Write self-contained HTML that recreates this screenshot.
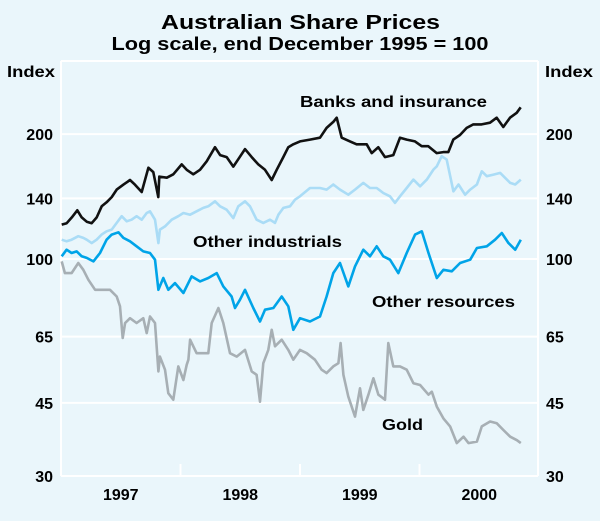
<!DOCTYPE html>
<html><head><meta charset="utf-8"><style>
html,body{margin:0;padding:0;background:#eaf6fb;}
svg{display:block;font-family:"Liberation Sans",Arial,sans-serif;}
</style></head><body>
<svg id="chart" width="600" height="521" viewBox="0 0 600 521">
<rect x="0" y="0" width="600" height="521" fill="#eaf6fb"/>
<text x="300.5" y="29" text-anchor="middle" font-size="20" font-weight="bold" textLength="279" lengthAdjust="spacingAndGlyphs" fill="#000">Australian Share Prices</text>
<text x="300" y="50" text-anchor="middle" font-size="18" font-weight="bold" textLength="377" lengthAdjust="spacingAndGlyphs" fill="#000">Log scale, end December 1995 = 100</text>
<text x="7" y="77" font-size="16" font-weight="bold" textLength="48" lengthAdjust="spacingAndGlyphs">Index</text>
<text x="545" y="77" font-size="16" font-weight="bold" textLength="48" lengthAdjust="spacingAndGlyphs">Index</text>
<g id="grid"></g>
<g id="series"></g>
<g id="labels"></g>
<text x="300" y="107" font-size="16" font-weight="bold" textLength="187" lengthAdjust="spacingAndGlyphs">Banks and insurance</text>
<text x="193" y="247" font-size="16" font-weight="bold" textLength="149" lengthAdjust="spacingAndGlyphs">Other industrials</text>
<text x="372" y="307" font-size="16" font-weight="bold" textLength="143" lengthAdjust="spacingAndGlyphs">Other resources</text>
<text x="382" y="430" font-size="16" font-weight="bold" textLength="41" lengthAdjust="spacingAndGlyphs">Gold</text>
</svg>
<script>
const yTicks=[30,45,65,100,140,200];
const yearLabels=["1997","1998","1999","2000"];
const banksDates=[1997.006,1997.048,1997.09,1997.136,1997.173,1997.215,1997.257,1997.299,1997.341,1997.382,1997.424,1997.466,1997.521,1997.577,1997.619,1997.675,1997.731,1997.772,1997.814,1997.823,1997.885,1997.94,1998.01,1998.052,1998.107,1998.163,1998.219,1998.289,1998.331,1998.387,1998.442,1998.484,1998.54,1998.596,1998.651,1998.707,1998.763,1998.805,1998.86,1998.902,1998.944,1999.0,1999.084,1999.167,1999.223,1999.279,1999.307,1999.349,1999.418,1999.474,1999.558,1999.6,1999.655,1999.711,1999.781,1999.837,1999.893,1999.962,2000.018,2000.074,2000.144,2000.199,2000.241,2000.283,2000.339,2000.395,2000.45,2000.52,2000.59,2000.646,2000.701,2000.757,2000.813,2000.847];
const banksValues=[121,122,126,131,126,123,122,126,134,137,141,147,151,155,151,145,166,162,141,158,157,160,169,164,160,164,172,186,178,176,167,174,184,176,169,164,155,164,176,186,189,192,194,196,207,214,219,196,192,189,189,180,186,176,178,196,194,192,187,187,180,181,181,194,199,207,211,211,213,219,208,219,225,232];
const indDates=[1997.006,1997.047,1997.089,1997.145,1997.187,1997.215,1997.257,1997.298,1997.34,1997.382,1997.424,1997.466,1997.508,1997.55,1997.591,1997.633,1997.675,1997.717,1997.745,1997.787,1997.815,1997.828,1997.87,1997.926,1997.982,1998.024,1998.08,1998.135,1998.191,1998.233,1998.289,1998.331,1998.386,1998.442,1998.484,1998.54,1998.582,1998.637,1998.693,1998.749,1998.791,1998.819,1998.861,1998.916,1998.958,1999.0,1999.084,1999.167,1999.223,1999.279,1999.335,1999.404,1999.46,1999.53,1999.586,1999.642,1999.697,1999.753,1999.795,1999.837,1999.893,1999.949,2000.005,2000.061,2000.117,2000.145,2000.186,2000.228,2000.284,2000.326,2000.382,2000.424,2000.48,2000.521,2000.563,2000.619,2000.675,2000.717,2000.759,2000.801,2000.848];
const indValues=[111.3,110.3,111.3,113.5,112.4,111.3,109.2,111.3,114.5,116.6,117.7,122.2,126.8,123.3,124.4,126.8,124.4,129.1,130.3,124.4,109.2,117.7,119.8,124.4,126.8,129.1,127.9,130.3,132.8,134,137.7,134,131.5,125.5,134,137.7,134,124.4,122.2,124.4,122.2,127.9,132.8,134,139,141.6,148.3,148.3,147,151.2,147,142.9,147,152.5,148.3,148.3,144.2,141.6,136.5,141.6,148.3,155.4,149.7,155.4,164.3,167.3,176.9,173.6,145.6,151.2,142.9,147,151.2,162.7,158.3,159.7,161.2,156.8,152.5,151.2,155.4];
const resDates=[1997.006,1997.047,1997.089,1997.131,1997.173,1997.215,1997.271,1997.326,1997.382,1997.424,1997.48,1997.522,1997.577,1997.633,1997.689,1997.745,1997.787,1997.815,1997.856,1997.898,1997.954,1998.024,1998.093,1998.163,1998.233,1998.303,1998.358,1998.428,1998.456,1998.498,1998.54,1998.609,1998.665,1998.707,1998.777,1998.847,1998.902,1998.944,1999.0,1999.0,1999.084,1999.167,1999.223,1999.279,1999.335,1999.404,1999.46,1999.53,1999.586,1999.642,1999.697,1999.753,1999.823,1999.893,1999.963,2000.019,2000.075,2000.145,2000.2,2000.27,2000.34,2000.424,2000.48,2000.563,2000.633,2000.689,2000.745,2000.801,2000.848];
const resValues=[101.5,105.3,103.4,104.3,101.5,100.6,98.7,103.4,111.3,114.5,116,112.4,110.3,107.3,104.3,103.4,99.6,84.3,90,84.3,87.5,82.8,90.8,88.3,90,92.5,85.9,81.2,76.2,79.8,84.3,76.2,70.7,75.5,76.2,81.2,76.9,67.5,72,72,70.7,72.7,81.2,92.5,97.8,85.9,96,105.3,101.5,107.3,101.5,99.6,92.5,103.4,114.5,116.6,103.4,90,94.2,93.4,97.8,99.6,106.3,107.3,111.3,115.5,109.2,105.3,111.3];
const goldDates=[1997.006,1997.033,1997.089,1997.145,1997.187,1997.229,1997.285,1997.34,1997.41,1997.466,1997.494,1997.516,1997.536,1997.577,1997.633,1997.689,1997.717,1997.745,1997.787,1997.815,1997.828,1997.87,1997.898,1997.94,1997.982,1998.024,1998.052,1998.066,1998.08,1998.135,1998.191,1998.233,1998.261,1998.317,1998.358,1998.414,1998.47,1998.54,1998.596,1998.637,1998.665,1998.693,1998.735,1998.763,1998.791,1998.847,1998.902,1998.944,1999.0,1999.056,1999.125,1999.181,1999.223,1999.279,1999.321,1999.34,1999.363,1999.404,1999.46,1999.502,1999.53,1999.572,1999.614,1999.656,1999.711,1999.739,1999.781,1999.837,1999.893,1999.949,2000.005,2000.075,2000.103,2000.145,2000.2,2000.256,2000.312,2000.368,2000.41,2000.48,2000.521,2000.591,2000.647,2000.703,2000.759,2000.815,2000.848];
const goldValues=[98.7,92.5,92.5,97.8,94.2,89.1,84.3,84.3,84.3,81.2,76.9,64.5,70.1,72,70.1,72,66.3,72.7,70.1,53.6,58.2,54.1,47.5,45.8,55.1,51.1,55.6,57.2,63.9,59.3,59.3,59.3,70.1,76.2,70.1,59.3,58.2,60.4,53.6,52.6,45.3,56.1,60.4,67.5,61.6,63.9,60.4,57.2,60.4,59.3,57.2,54.1,53.1,55.1,56.1,62.7,52.6,46.6,41.7,48.8,43.3,47.1,51.6,47.1,45.8,62.7,55.1,55.1,54.1,50.2,49.7,47.1,47.9,44.1,41.3,39.5,36,37.3,36,36.3,39.5,40.6,40.2,38.7,37.3,36.6,36];

const NS="http://www.w3.org/2000/svg";
const L=61,R=538,T=61,B=476,YMIN=30,YMAX=300;
function xs(d){return L+(d-1997)*119.5;}
function ys(v){return B-(Math.log(v)-Math.log(YMIN))/(Math.log(YMAX)-Math.log(YMIN))*(B-T);}
const grid=document.getElementById('grid');
function line(x1,y1,x2,y2,name){const l=document.createElementNS(NS,'line');l.setAttribute('x1',x1);l.setAttribute('y1',y1);l.setAttribute('x2',x2);l.setAttribute('y2',y2);l.setAttribute('stroke','#ffffff');l.setAttribute('stroke-width','2');


grid.appendChild(l);}
line(L,T,R,T,'plot-top-border');
line(L,T,L,B,'plot-left-border');
line(R,T,R,B,'plot-right-border');
yTicks.forEach(v=>{const y=ys(v);line(L,y,R,y,'gridline-'+v);
['L','R'].forEach(s=>{const t=document.createElementNS(NS,'text');t.textContent=v;t.setAttribute('y',y+6);t.setAttribute('font-size','16');t.setAttribute('font-weight','bold');
if(s==='L'){t.setAttribute('x',53);t.setAttribute('text-anchor','end');}else{t.setAttribute('x',546);}


grid.appendChild(t);});});
yearLabels.forEach((yr,i)=>{const d=1997+i;if(i>0)line(xs(d),B-12,xs(d),B,'x-tick-'+yr);
const t=document.createElementNS(NS,'text');t.textContent=yr;t.setAttribute('x',xs(d+0.5));t.setAttribute('y',500);t.setAttribute('text-anchor','middle');t.setAttribute('font-size','16');t.setAttribute('font-weight','bold');


grid.appendChild(t);});
const sg=document.getElementById('series');
function drawSeries(dates,vals,color,name){const p=document.createElementNS(NS,'path');
p.setAttribute('d',dates.map((d,i)=>(i?'L':'M')+xs(d).toFixed(1)+','+ys(vals[i]).toFixed(1)).join(''));
p.setAttribute('fill','none');p.setAttribute('stroke',color);p.setAttribute('stroke-width','2.6');p.setAttribute('stroke-linejoin','round');


sg.appendChild(p);}
drawSeries(goldDates,goldValues,'#a7afb4','series-gold');
drawSeries(indDates,indValues,'#aadcf6','series-other-industrials');
drawSeries(resDates,resValues,'#00a4e8','series-other-resources');
drawSeries(banksDates,banksValues,'#111111','series-banks-and-insurance');
</script>
</body></html>
